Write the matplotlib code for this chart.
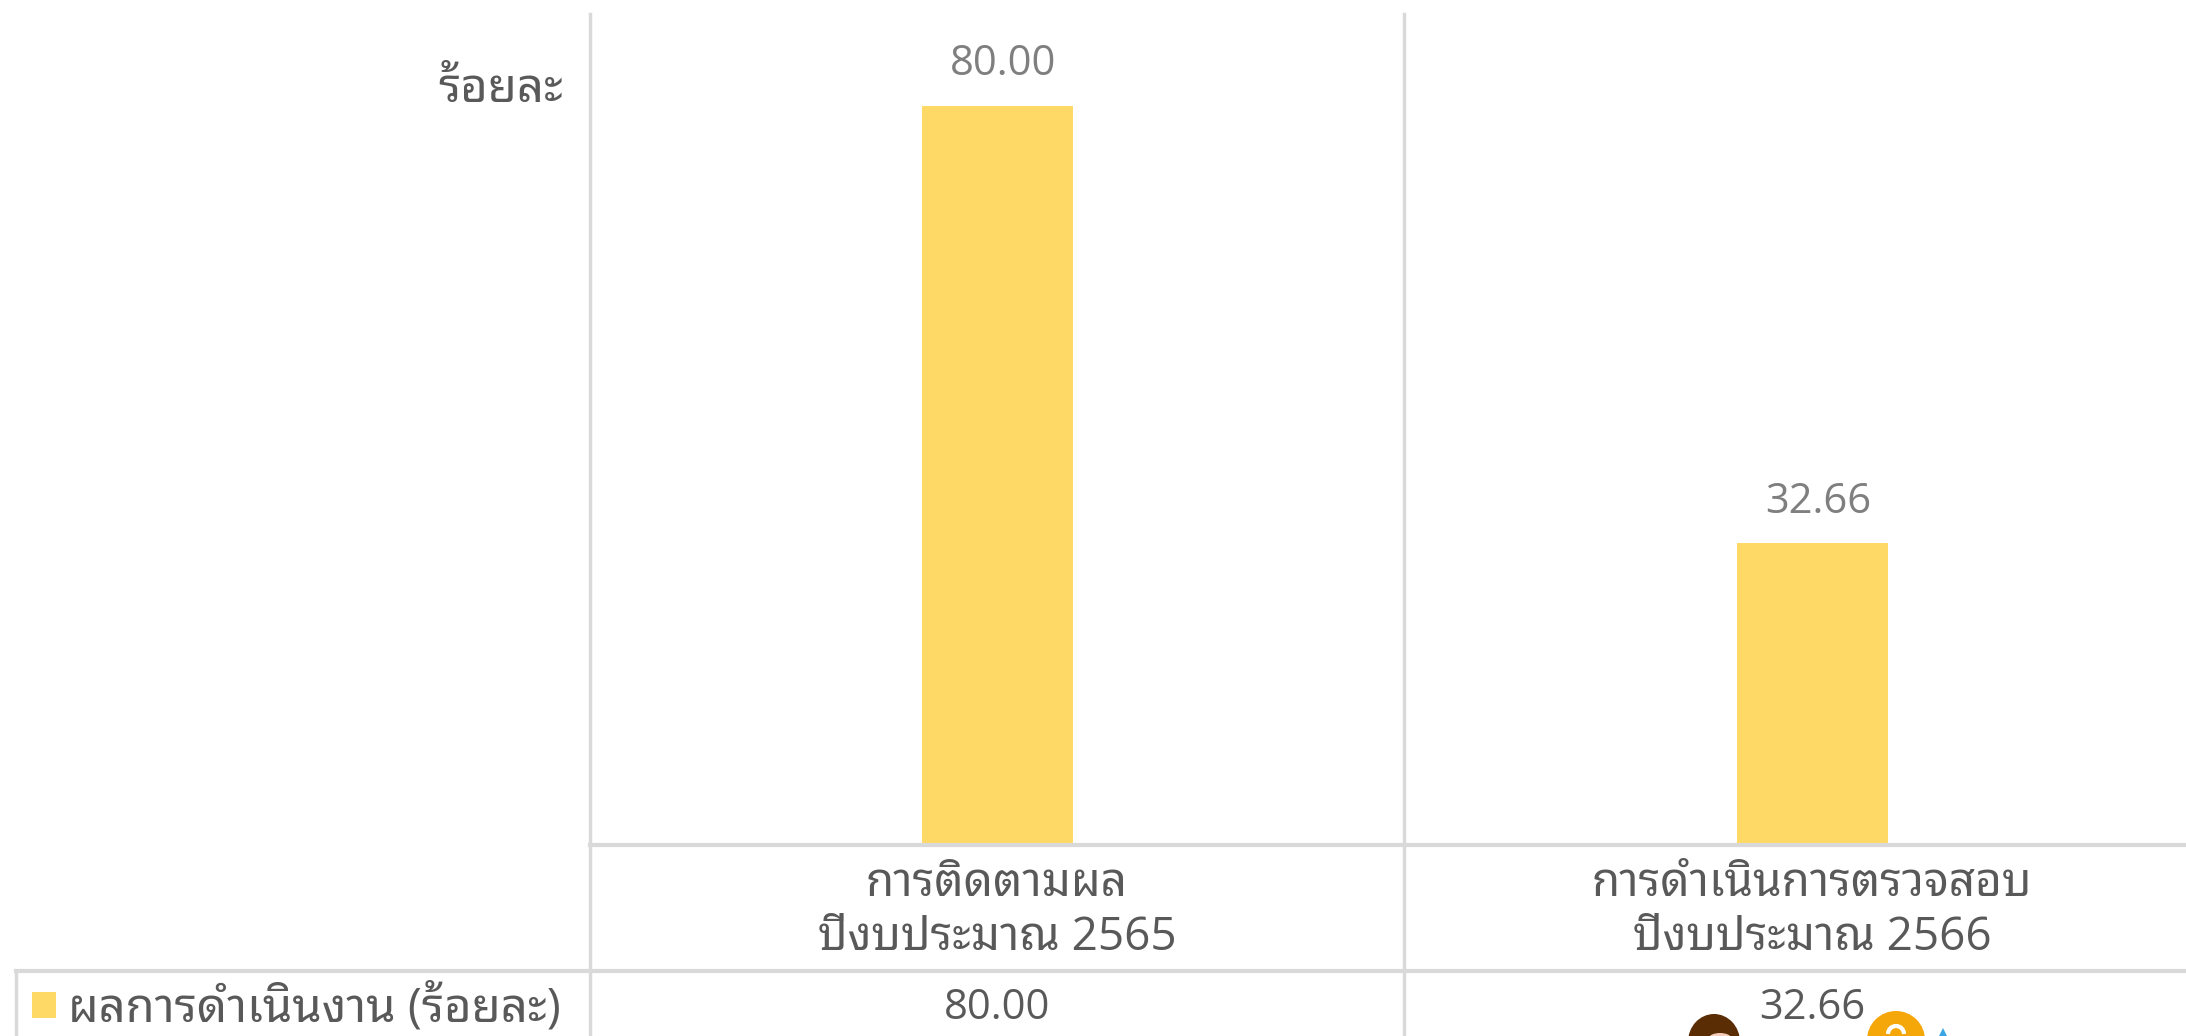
import matplotlib
matplotlib.use("Agg")
import matplotlib.pyplot as plt
from matplotlib.patches import Arc, Circle, Ellipse, Polygon, Rectangle

# --- data ---
categories = ["การติดตามผล\nปีงบประมาณ 2565", "การดำเนินการตรวจสอบ\nปีงบประมาณ 2566"]
values = [80.00, 32.66]
value_labels = ["80.00", "32.66"]
series_name = "ผลการดำเนินงาน (ร้อยละ)"
y_title = "ร้อยละ"

W, H = 2186, 1036
GRID = "#d9d9d9"
TEXT = "#595959"
BAR = "#ffd966"
plt.rcParams['font.family'] = ['Open Sans', 'Noto Sans Thai Looped', 'DejaVu Sans']

fig = plt.figure(figsize=(W / 100, H / 100), dpi=100, facecolor="white")

# overlay in pixel coords for the data table and the cut off pictures
bg = fig.add_axes([0, 0, 1, 1], zorder=3)
bg.set_xlim(0, W)
bg.set_ylim(H, 0)
bg.axis("off")
bg.patch.set_alpha(0)

# main axes, runs past the right edge of the image like the screenshot
left, right, top, bottom = 590, 2220, 14, 845
ax = fig.add_axes([left / W, 1 - bottom / H, (right - left) / W, (bottom - top) / H], zorder=2)
ax.set_xlim(-0.5, 1.5)
ax.set_ylim(0, 90)
ax.set_xticks([])
ax.set_yticks([])
ax.patch.set_alpha(0)
for s in ax.spines.values():
    s.set_visible(False)

ax.bar(range(len(values)), values, width=0.185, color=BAR)
for i, (v, lab) in enumerate(zip(values, value_labels)):
    ax.annotate(lab, (i, v), xytext=(4, 15), textcoords="offset points",
                ha="center", va="bottom", color="#7f7f7f", fontsize=30)

# table lines
bg.plot([590, 590], [14, H], color=GRID, lw=2.5)
bg.plot([1404, 1404], [14, H], color=GRID, lw=2.5)
bg.plot([590, W], [845, 845], color=GRID, lw=3)
bg.plot([16, W], [971, 971], color=GRID, lw=3)
bg.plot([16, 16], [971, H], color=GRID, lw=2.5)

# table text
centers = [997, 1812]
for cx, cat, lab in zip(centers, categories, value_labels):
    bg.text(cx, 911, cat, ha="center", va="center", color=TEXT, fontsize=33, linespacing=1.2)
    bg.text(cx, 1008, lab, ha="center", va="center", color=TEXT, fontsize=30)

bg.add_patch(Rectangle((32, 992), 24, 26, color=BAR, lw=0))
bg.text(68, 1008, series_name, ha="left", va="center", color=TEXT, fontsize=34)
bg.text(563, 89, y_title, ha="right", va="center", color=TEXT, fontsize=34)

# cartoon bits cut off at the bottom edge
bg.add_patch(Ellipse((1714, 1042), 52, 56, color="#5a2d05", lw=0))
bg.add_patch(Ellipse((1720, 1038), 22, 10, color="#f6cdb8", lw=0))
bg.add_patch(Circle((1896, 1040), 29, color="#f5a70a", lw=0))
bg.add_patch(Arc((1896, 1034), 16, 16, theta1=180, theta2=360, color="white", lw=3))
bg.add_patch(Polygon([[1939, 1036], [1943, 1028], [1947, 1036]], color="#3aa6e8", lw=0))

fig.savefig("out.png", dpi=100)
